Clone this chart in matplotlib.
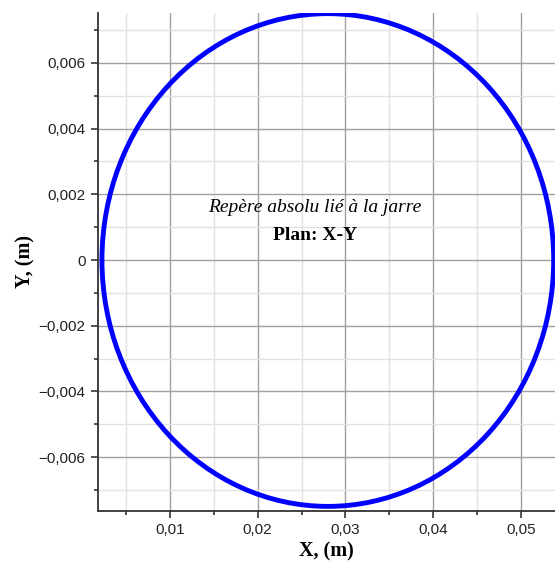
import matplotlib
matplotlib.use('Agg')
import matplotlib.pyplot as plt
from matplotlib.patches import Ellipse
from matplotlib.ticker import MultipleLocator, FuncFormatter

# trajectory of the point in the jar frame (ellipse in data units)
c_fCenterX = 0.028
c_fCenterY = 0.0
c_fRadiusX = 0.02575
c_fRadiusY = 0.0075

c_strTitle1 = 'Repère absolu lié à la jarre'
c_strTitle2 = 'Plan: X-Y'

def fmt_comma(v, pos):
   s = '%g' % round(v, 6)
   if s == '-0':
      s = '0'
   return s.replace('.', ',').replace('-', '\u2212')

fig = plt.figure(figsize=(5.55, 5.65), dpi=100)
ax = fig.add_axes([0.1766, 0.0956, 0.8234, 0.8814])

ax.add_patch(Ellipse((c_fCenterX, c_fCenterY), 2*c_fRadiusX, 2*c_fRadiusY,
                     fill=False, edgecolor='#0000ff', linewidth=3.5, zorder=3))

ax.set_xlim(0.0018, 0.0539)
ax.set_ylim(-0.00764, 0.00752)

ax.xaxis.set_major_locator(MultipleLocator(0.01))
ax.xaxis.set_minor_locator(MultipleLocator(0.005))
ax.yaxis.set_major_locator(MultipleLocator(0.002))
ax.yaxis.set_minor_locator(MultipleLocator(0.001))
ax.xaxis.set_major_formatter(FuncFormatter(fmt_comma))
ax.yaxis.set_major_formatter(FuncFormatter(fmt_comma))

ax.grid(which='major', color='#a0a0a0', linewidth=1.0)
ax.grid(which='minor', color='#e2e2e2', linewidth=1.0)
ax.set_axisbelow(True)

ax.spines['top'].set_visible(False)
ax.spines['right'].set_visible(False)
ax.spines['left'].set_color('#333333')
ax.spines['bottom'].set_color('#333333')
ax.spines['left'].set_linewidth(1.3)
ax.spines['bottom'].set_linewidth(1.3)
ax.tick_params(which='major', direction='out', length=5, width=1.2, color='#333333',
               labelsize=11, labelcolor='#222222', pad=4)
ax.tick_params(which='minor', direction='out', length=3, width=1.2, color='#333333')
for lbl in ax.get_xticklabels() + ax.get_yticklabels():
   lbl.set_family('Liberation Sans')

ax.set_xlabel('X, (m)', family='Liberation Serif', fontweight='bold', fontsize=14.5, labelpad=3)
ax.set_ylabel('Y, (m)', family='Liberation Serif', fontweight='bold', fontsize=14.5, labelpad=2)

ax.text(0.02653, 0.00161, c_strTitle1, family='Liberation Serif', style='italic',
        fontsize=14, ha='center', va='center', zorder=4)
ax.text(0.02653, 0.00076, c_strTitle2, family='Liberation Serif', fontweight='bold',
        fontsize=14, ha='center', va='center', zorder=4)

fig.savefig('out.png', dpi=100)
